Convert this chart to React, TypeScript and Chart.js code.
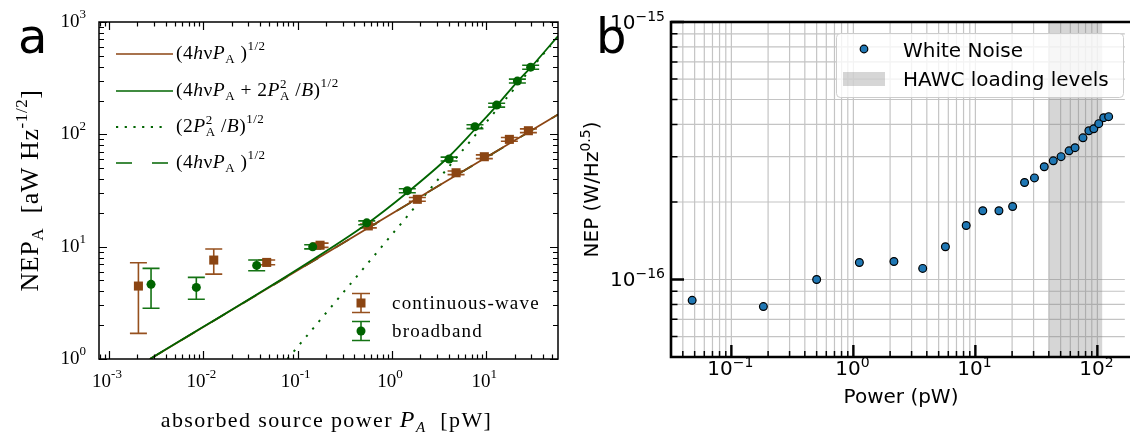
import React, { useEffect, useRef } from 'react';
import { Chart, registerables } from 'chart.js';
Chart.register(...registerables);

// ---------------- Panel a data ----------------
const cwPower = [0.00205, 0.0129, 0.047, 0.173, 0.562, 1.86, 4.79, 9.55, 17.6, 28.0];
const cwNep = [4.46, 7.6, 7.24, 10.3, 15.3, 26.4, 45.5, 63.2, 90.2, 107.7];
const cwNepLow = [1.69, 5.7, 6.9, 9.85, 14.7, 25.4, 43.8, 60.8, 86.8, 103.6];
const cwNepHigh = [7.19, 9.52, 7.6, 10.75, 15.9, 27.4, 47.2, 65.6, 93.6, 111.8];

const bbPower = [0.00279, 0.00843, 0.0368, 0.1445, 0.541, 1.456, 4.04, 7.6, 12.9, 21.4, 29.6];
const bbNep = [4.62, 4.34, 6.81, 9.97, 16.3, 31.5, 60.3, 117, 182, 298, 396];
const bbNepLow = [2.83, 3.4, 6.1, 9.55, 15.65, 30.2, 57.9, 112.3, 174.7, 286, 380];
const bbNepHigh = [6.41, 5.33, 7.6, 10.4, 16.95, 32.8, 62.7, 121.7, 189.3, 310, 412];

// model curves
const shotPower = [0.00272, 1.027, 57.7];
const shotNep = [1.0, 19.9, 150];
const totalPower = [0.00272, 0.106, 0.545, 1.445, 4.03, 7.6, 13.0, 21.2, 29.9, 57.7];
const totalNep = [1.0, 6.5, 16.0, 30.2, 63.5, 111, 181, 292, 397, 750];
const wavePower = [0.078, 57.7];
const waveNep = [1.0, 740];

const aXRange = [7.83e-4, 57.7];
const aYRange = [1, 1000];
const aXExp = ['-3', '-2', '-1', '0', '1'];
const aYExp = ['0', '1', '2', '3'];

// ---------------- Panel b data ----------------
const wnPower = [0.0477, 0.183, 0.5, 1.12, 2.15, 3.7, 5.68, 8.41, 11.5, 15.6, 20.2, 25.3, 30.5, 36.7, 43.5, 50.4, 58.6, 65.6, 76.2, 85.2, 93.5, 102.6, 112.7, 123.7];
const wnNep = [8.3e-17, 7.85e-17, 1.0e-16, 1.164e-16, 1.175e-16, 1.104e-16, 1.34e-16, 1.62e-16, 1.85e-16, 1.85e-16, 1.92e-16, 2.38e-16, 2.48e-16, 2.74e-16, 2.89e-16, 3.0e-16, 3.16e-16, 3.25e-16, 3.55e-16, 3.78e-16, 3.85e-16, 4.03e-16, 4.25e-16, 4.29e-16];
const hawcRange = [40, 110];

// the axes are cut off by the right edge of the picture
const bXRange = [0.032, 167.8];
const bYRange = [5.035e-17, 1e-15];
const bXExp = ['−1', '0', '1', '2'];
const bYExp = ['−16', '−15'];

// ---------------- styles ----------------
const SERIF = '"Liberation Serif", "Times New Roman", serif';
const SANS = '"DejaVu Sans", sans-serif';
const BROWN = 'rgb(139,69,19)';
const GREEN = 'rgb(0,100,0)';
const LBROWN = 'rgb(150,80,30)';
const LGREEN = 'rgb(20,115,20)';
const BLUE = '#1f77b4';

const R = (s: number) => `${s}px ${SERIF}`;
const I = (s: number) => `italic ${s}px ${SERIF}`;
const S = (s: number) => `${s}px ${SANS}`;

type Seg = { t: string; f: string; dy?: number; t2?: string; dy2?: number };

function drawRich(ctx: any, segs: Seg[], x: number, y: number, align: string, ls = 0) {
  ctx.letterSpacing = ls + 'px';
  const ws = segs.map((s) => {
    ctx.font = s.f;
    let w = ctx.measureText(s.t).width;
    if (s.t2) w = Math.max(w, ctx.measureText(s.t2).width);
    return w;
  });
  const total = ws.reduce((a, b) => a + b, 0);
  let cx = align === 'center' ? x - total / 2 : align === 'right' ? x - total : x;
  ctx.textAlign = 'left';
  ctx.textBaseline = 'alphabetic';
  segs.forEach((s, i) => {
    ctx.font = s.f;
    ctx.fillText(s.t, cx, y + (s.dy || 0));
    if (s.t2) ctx.fillText(s.t2, cx, y + (s.dy2 || 0));
    cx += ws[i];
  });
  ctx.letterSpacing = '0px';
}

function expVal(e: string) {
  return Math.pow(10, Number(e.replace('−', '-')));
}

function decadeTicks(min: number, max: number) {
  const major: number[] = [];
  const minor: number[] = [];
  for (let e = Math.floor(Math.log10(min)); e <= Math.ceil(Math.log10(max)); e++) {
    for (let k = 1; k <= 9; k++) {
      const v = k * Math.pow(10, e);
      if (v < min * 0.999 || v > max * 1.001) continue;
      (k === 1 ? major : minor).push(v);
    }
  }
  return { major, minor };
}

const LF = 19.5;
const LS = 13;
const legendA: { color: string; dash: number[]; y: number; segs: Seg[] }[] = [
  {
    color: BROWN, dash: [], y: 54,
    segs: [
      { t: '(4', f: R(LF) }, { t: 'h', f: I(LF) }, { t: 'ν', f: R(LF) }, { t: 'P', f: I(LF) },
      { t: 'A', f: R(LS), dy: 4 }, { t: ' )', f: R(LF) }, { t: '1/2', f: R(LS), dy: -9 },
    ],
  },
  {
    color: GREEN, dash: [], y: 91,
    segs: [
      { t: '(4', f: R(LF) }, { t: 'h', f: I(LF) }, { t: 'ν', f: R(LF) }, { t: 'P', f: I(LF) },
      { t: 'A', f: R(LS), dy: 4 }, { t: ' + 2', f: R(LF) }, { t: 'P', f: I(LF) },
      { t: 'A', f: R(LS), dy: 4, t2: '2', dy2: -8 }, { t: ' /', f: R(LF) }, { t: 'B', f: I(LF) },
      { t: ')', f: R(LF) }, { t: '1/2', f: R(LS), dy: -9 },
    ],
  },
  {
    color: GREEN, dash: [2.2, 6.5], y: 127,
    segs: [
      { t: '(2', f: R(LF) }, { t: 'P', f: I(LF) }, { t: 'A', f: R(LS), dy: 4, t2: '2', dy2: -8 },
      { t: ' /', f: R(LF) }, { t: 'B', f: I(LF) }, { t: ')', f: R(LF) }, { t: '1/2', f: R(LS), dy: -9 },
    ],
  },
  {
    color: GREEN, dash: [16, 20], y: 163,
    segs: [
      { t: '(4', f: R(LF) }, { t: 'h', f: I(LF) }, { t: 'ν', f: R(LF) }, { t: 'P', f: I(LF) },
      { t: 'A', f: R(LS), dy: 4 }, { t: ' )', f: R(LF) }, { t: '1/2', f: R(LS), dy: -9 },
    ],
  },
];

const errorBarsA = {
  id: 'errbarsA',
  beforeDatasetsDraw(chart: any) {
    const ctx = chart.ctx;
    const xs = chart.scales.x;
    const ys = chart.scales.y;
    const sets = [
      { p: cwPower, lo: cwNepLow, hi: cwNepHigh, c: LBROWN },
      { p: bbPower, lo: bbNepLow, hi: bbNepHigh, c: LGREEN },
    ];
    ctx.save();
    ctx.lineWidth = 1.6;
    sets.forEach((s) => {
      ctx.strokeStyle = s.c;
      s.p.forEach((p, i) => {
        const px = xs.getPixelForValue(p);
        const y1 = ys.getPixelForValue(s.lo[i]);
        const y2 = ys.getPixelForValue(s.hi[i]);
        ctx.beginPath();
        ctx.moveTo(px, y1); ctx.lineTo(px, y2);
        ctx.moveTo(px - 8.5, y1); ctx.lineTo(px + 8.5, y1);
        ctx.moveTo(px - 8.5, y2); ctx.lineTo(px + 8.5, y2);
        ctx.stroke();
      });
    });
    ctx.restore();
  },
};

const decorA = {
  id: 'decorA',
  afterDraw(chart: any) {
    const ctx = chart.ctx;
    const a = chart.chartArea;
    const xs = chart.scales.x;
    const ys = chart.scales.y;
    ctx.save();
    ctx.strokeStyle = '#000';
    ctx.lineWidth = 1.5;
    ctx.strokeRect(a.left, a.top, a.right - a.left, a.bottom - a.top);
    const xt = decadeTicks(aXRange[0], aXRange[1]);
    const yt = decadeTicks(aYRange[0], aYRange[1]);
    ctx.lineWidth = 1.2;
    ctx.beginPath();
    [...xt.major.map((v) => [v, 8]), ...xt.minor.map((v) => [v, 4.5])].forEach(([v, len]) => {
      const px = Math.round(xs.getPixelForValue(v)) + 0.5;
      ctx.moveTo(px, a.bottom); ctx.lineTo(px, a.bottom - len);
      ctx.moveTo(px, a.top); ctx.lineTo(px, a.top + len);
    });
    [...yt.major.map((v) => [v, 8]), ...yt.minor.map((v) => [v, 5])].forEach(([v, len]) => {
      const py = Math.round(ys.getPixelForValue(v)) + 0.5;
      ctx.moveTo(a.left, py); ctx.lineTo(a.left + len, py);
      ctx.moveTo(a.right, py); ctx.lineTo(a.right - len, py);
    });
    ctx.stroke();

    ctx.fillStyle = '#000';
    aXExp.forEach((e) => {
      const px = xs.getPixelForValue(expVal(e));
      drawRich(ctx, [{ t: '10', f: R(19) }, { t: e, f: R(13), dy: -9 }], px - 2, 387, 'center');
    });
    aYExp.forEach((e) => {
      const py = ys.getPixelForValue(expVal(e));
      drawRich(ctx, [{ t: '10', f: R(19) }, { t: e, f: R(13), dy: -9 }], 86, py + 5, 'right');
    });

    // x title
    drawRich(ctx, [
      { t: 'absorbed source power ', f: R(22) }, { t: 'P', f: I(24) }, { t: 'A', f: I(15), dy: 5 },
      { t: '  [pW]', f: R(22) },
    ], (a.left + a.right) / 2 - 2, 427, 'center', 1.4);

    // y title
    ctx.save();
    ctx.translate(38, (a.top + a.bottom) / 2);
    ctx.rotate(-Math.PI / 2);
    drawRich(ctx, [
      { t: 'NEP', f: R(26) }, { t: 'A', f: R(17), dy: 5 }, { t: '  [aW Hz', f: R(26) },
      { t: '-1/2', f: R(17), dy: -11 }, { t: ']', f: R(26) },
    ], 0, 0, 'center', 0.6);
    ctx.restore();

    // panel letter
    ctx.font = S(48);
    ctx.textAlign = 'left';
    ctx.fillText('a', 18, 53);

    // top-left legend
    legendA.forEach((row) => {
      ctx.strokeStyle = row.color;
      const dotted = row.dash.length > 0 && row.dash[0] < 3;
      ctx.lineWidth = dotted ? 2 : 1.7;
      ctx.setLineDash(row.dash);
      ctx.beginPath();
      ctx.moveTo(116, row.y);
      ctx.lineTo(dotted ? 168 : 173, row.y);
      ctx.stroke();
      ctx.setLineDash([]);
      ctx.fillStyle = '#000';
      drawRich(ctx, row.segs, 176, row.y + 5, 'left', 0.5);
    });

    // bottom-right legend (markers with error bars)
    const lx = 361;
    const rows = [
      { y: 303, c: BROWN, lc: LBROWN, sq: true, label: 'continuous-wave' },
      { y: 331, c: GREEN, lc: LGREEN, sq: false, label: 'broadband' },
    ];
    rows.forEach((r) => {
      ctx.strokeStyle = r.lc;
      ctx.lineWidth = 1.6;
      ctx.beginPath();
      ctx.moveTo(lx, r.y - 9.5); ctx.lineTo(lx, r.y + 9.5);
      ctx.moveTo(lx - 9, r.y - 9.5); ctx.lineTo(lx + 9, r.y - 9.5);
      ctx.moveTo(lx - 9, r.y + 9.5); ctx.lineTo(lx + 9, r.y + 9.5);
      ctx.stroke();
      ctx.fillStyle = r.c;
      ctx.beginPath();
      if (r.sq) ctx.rect(lx - 4.5, r.y - 4.5, 9, 9);
      else ctx.arc(lx, r.y, 4.5, 0, Math.PI * 2);
      ctx.fill();
      ctx.fillStyle = '#000';
      drawRich(ctx, [{ t: r.label, f: R(19) }], 392, r.y + 6, 'left', 1.2);
    });
    ctx.restore();
  },
};

const gridB = {
  id: 'gridB',
  beforeDatasetsDraw(chart: any) {
    const ctx = chart.ctx;
    const a = chart.chartArea;
    const xs = chart.scales.x;
    const ys = chart.scales.y;
    const xt = decadeTicks(bXRange[0], bXRange[1]);
    const yt = decadeTicks(bYRange[0], bYRange[1]);
    ctx.save();
    ctx.strokeStyle = 'rgb(196,196,196)';
    ctx.lineWidth = 1.2;
    ctx.beginPath();
    [...xt.major, ...xt.minor].forEach((v) => {
      const px = xs.getPixelForValue(v);
      ctx.moveTo(px, a.top); ctx.lineTo(px, a.bottom);
    });
    [...yt.major, ...yt.minor].forEach((v) => {
      const py = ys.getPixelForValue(v);
      ctx.moveTo(a.left, py); ctx.lineTo(a.right, py);
    });
    ctx.stroke();
    ctx.restore();
  },
};

const decorB = {
  id: 'decorB',
  afterDraw(chart: any) {
    const ctx = chart.ctx;
    const a = chart.chartArea;
    const xs = chart.scales.x;
    const ys = chart.scales.y;
    const off = 570;
    ctx.save();
    // ticks
    const xt = decadeTicks(bXRange[0], bXRange[1]);
    const yt = decadeTicks(bYRange[0], bYRange[1]);
    ctx.strokeStyle = '#000';
    ctx.lineWidth = 1.5;
    ctx.beginPath();
    xt.minor.forEach((v) => {
      const px = xs.getPixelForValue(v);
      ctx.moveTo(px, a.bottom); ctx.lineTo(px, a.bottom - 6);
    });
    yt.minor.forEach((v) => {
      const py = ys.getPixelForValue(v);
      ctx.moveTo(a.left, py); ctx.lineTo(a.left + 6.5, py);
    });
    ctx.stroke();
    ctx.lineWidth = 2.4;
    ctx.beginPath();
    xt.major.forEach((v) => {
      const px = xs.getPixelForValue(v);
      ctx.moveTo(px, a.bottom); ctx.lineTo(px, a.bottom - 12);
    });
    yt.major.forEach((v) => {
      const py = ys.getPixelForValue(v);
      ctx.moveTo(a.left, py); ctx.lineTo(a.left + 13, py);
    });
    ctx.stroke();
    // spines: left, top, bottom (the axes continue past the picture's right edge)
    ctx.lineWidth = 2.6;
    ctx.beginPath();
    ctx.moveTo(a.right + 10, a.top);
    ctx.lineTo(a.left, a.top);
    ctx.lineTo(a.left, a.bottom);
    ctx.lineTo(a.right + 10, a.bottom);
    ctx.stroke();

    // tick labels
    ctx.fillStyle = '#000';
    bXExp.forEach((e) => {
      const px = xs.getPixelForValue(expVal(e));
      drawRich(ctx, [{ t: '10', f: S(20) }, { t: e, f: S(14), dy: -8 }], px - 1, 375, 'center');
    });
    bYExp.forEach((e) => {
      const py = ys.getPixelForValue(expVal(e));
      drawRich(ctx, [{ t: '10', f: S(20) }, { t: e, f: S(14), dy: -8 }], a.left - 6, py + 7, 'right');
    });

    // axis titles
    drawRich(ctx, [{ t: 'Power (pW)', f: S(20) }], 901 - off, 403, 'center');
    ctx.save();
    ctx.translate(598 - off, (a.top + a.bottom) / 2);
    ctx.rotate(-Math.PI / 2);
    drawRich(ctx, [{ t: 'NEP (W/Hz', f: S(20) }, { t: '0.5', f: S(14), dy: -8 }, { t: ')', f: S(20) }], 0, 0, 'center');
    ctx.restore();

    // panel letter
    ctx.font = S(48);
    ctx.textAlign = 'left';
    ctx.fillText('b', 596 - off, 53);

    // legend
    ctx.beginPath();
    ctx.roundRect(836.5 - off, 33.5, 287, 64, 4);
    ctx.fillStyle = 'rgba(255,255,255,0.8)';
    ctx.fill();
    ctx.strokeStyle = 'rgb(204,204,204)';
    ctx.lineWidth = 1;
    ctx.stroke();
    ctx.beginPath();
    ctx.arc(864 - off, 49, 3.8, 0, Math.PI * 2);
    ctx.fillStyle = BLUE;
    ctx.fill();
    ctx.strokeStyle = '#000';
    ctx.lineWidth = 1.2;
    ctx.stroke();
    ctx.fillStyle = 'rgba(128,128,128,0.32)';
    ctx.fillRect(843 - off, 72, 42, 14);
    ctx.fillStyle = '#000';
    drawRich(ctx, [{ t: 'White Noise', f: S(20) }], 903 - off, 56.5, 'left');
    drawRich(ctx, [{ t: 'HAWC loading levels', f: S(20) }], 903 - off, 86, 'left');
    ctx.restore();
  },
};

function pts(xs: number[], ys: number[]) {
  return xs.map((x, i) => ({ x, y: ys[i] }));
}

export default function App() {
  const refA = useRef<HTMLCanvasElement>(null);
  const refB = useRef<HTMLCanvasElement>(null);

  useEffect(() => {
    const chartA = new Chart(refA.current as HTMLCanvasElement, {
      type: 'scatter',
      data: {
        datasets: [
          {
            label: 'broadband', data: pts(bbPower, bbNep), pointStyle: 'circle', pointRadius: 4.5,
            backgroundColor: GREEN, borderColor: GREEN, borderWidth: 0, order: 0,
          } as any,
          {
            label: 'continuous-wave', data: pts(cwPower, cwNep), pointStyle: 'rect', pointRadius: 6.4,
            backgroundColor: BROWN, borderColor: BROWN, borderWidth: 0, order: 1,
          } as any,
          {
            type: 'line', label: 'total', data: pts(totalPower, totalNep), borderColor: GREEN,
            borderWidth: 1.8, pointRadius: 0, cubicInterpolationMode: 'monotone', order: 2,
          } as any,
          {
            type: 'line', label: 'shot cw', data: pts(shotPower, shotNep), borderColor: BROWN,
            borderWidth: 1.8, pointRadius: 0, order: 3,
          } as any,
          {
            type: 'line', label: 'wave', data: pts(wavePower, waveNep), borderColor: GREEN,
            borderWidth: 2, borderDash: [2.2, 7.5], pointRadius: 0, order: 4,
          } as any,
          {
            type: 'line', label: 'shot bb', data: pts(shotPower, shotNep), borderColor: GREEN,
            borderWidth: 1.8, borderDash: [16, 20], pointRadius: 0, order: 5,
          } as any,
        ],
      },
      options: {
        animation: false,
        responsive: false,
        events: [],
        layout: { padding: { left: 99, right: 12, top: 22, bottom: 76 } },
        plugins: { legend: { display: false }, tooltip: { enabled: false }, title: { display: false } },
        scales: {
          x: { type: 'logarithmic', min: aXRange[0], max: aXRange[1], display: false },
          y: { type: 'logarithmic', min: aYRange[0], max: aYRange[1], display: false },
        },
      },
      plugins: [errorBarsA, decorA],
    } as any);

    const chartB = new Chart(refB.current as HTMLCanvasElement, {
      type: 'scatter',
      data: {
        datasets: [
          {
            label: 'White Noise', data: pts(wnPower, wnNep), pointStyle: 'circle', pointRadius: 3.9,
            backgroundColor: BLUE, borderColor: '#000', borderWidth: 1.2, order: 0,
          } as any,
          {
            type: 'line', label: 'HAWC loading levels',
            data: pts(hawcRange, [bYRange[1], bYRange[1]]),
            borderWidth: 0, borderColor: 'rgba(0,0,0,0)', pointRadius: 0,
            fill: 'start', backgroundColor: 'rgba(128,128,128,0.32)', order: 1,
          } as any,
        ],
      },
      options: {
        animation: false,
        responsive: false,
        events: [],
        layout: { padding: { left: 101, right: 0, top: 22, bottom: 78 } },
        plugins: { legend: { display: false }, tooltip: { enabled: false }, title: { display: false } },
        scales: {
          x: { type: 'logarithmic', min: bXRange[0], max: bXRange[1], display: false },
          y: { type: 'logarithmic', min: bYRange[0], max: bYRange[1], display: false },
        },
      },
      plugins: [gridB, decorB],
    } as any);

    return () => {
      chartA.destroy();
      chartB.destroy();
    };
  }, []);

  return (
    <div style={{ position: 'absolute', left: 0, top: 0, width: 1130, height: 435, overflow: 'hidden', background: '#fff' }}>
      <canvas ref={refA} width={570} height={435} style={{ position: 'absolute', left: 0, top: 0, width: 570, height: 435 }} />
      <canvas ref={refB} width={560} height={435} style={{ position: 'absolute', left: 570, top: 0, width: 560, height: 435 }} />
    </div>
  );
}
